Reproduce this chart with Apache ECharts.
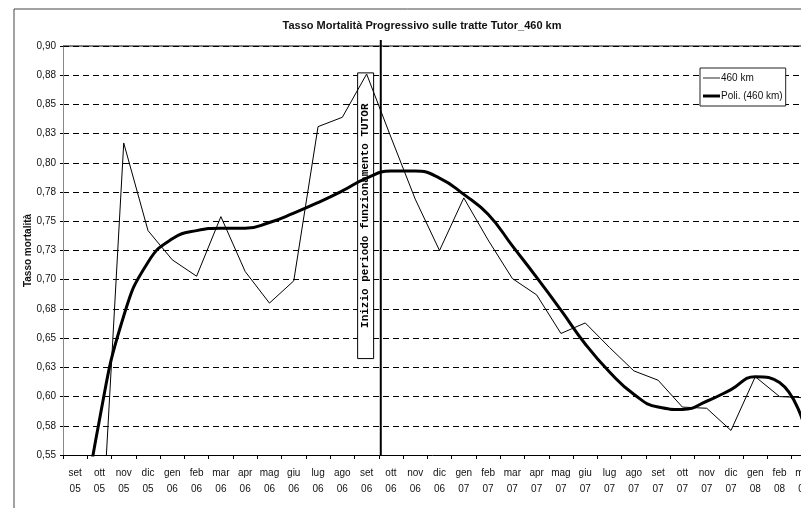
<!DOCTYPE html>
<html lang="it">
<head>
    <meta charset="UTF-8">
    <title>Tasso Mortalità Progressivo sulle tratte Tutor_460 km</title>
    <style>
        html, body { margin: 0; padding: 0; background: #fff; }
        #chart { width: 801px; height: 524px; }
    </style>
</head>
<body>
<div id="chart"></div>
<script src="https://cdn.jsdelivr.net/npm/echarts@6/dist/echarts.min.js"></script>
<script>
// mesi (asse x)
var categories = ['set 05','ott 05','nov 05','dic 05','gen 06','feb 06','mar 06','apr 06','mag 06','giu 06',
  'lug 06','ago 06','set 06','ott 06','nov 06','dic 06','gen 07','feb 07','mar 07','apr 07',
  'mag 07','giu 07','lug 07','ago 07','set 07','ott 07','nov 07','dic 07','gen 08','feb 08','mar 08'];

// tasso mortalità 460 km
var tasso460 = [0.40, 0.443, 0.817, 0.742, 0.717, 0.703, 0.754, 0.707, 0.680, 0.699,
  0.831, 0.839, 0.876, 0.822, 0.769, 0.725, 0.770, 0.734, 0.701, 0.687,
  0.654, 0.663, 0.642, 0.622, 0.614, 0.591, 0.590, 0.571, 0.617, 0.600, 0.599];

// linea di tendenza polinomiale
var poli460 = [0.45, 0.580, 0.669, 0.715, 0.735, 0.742, 0.744, 0.744, 0.749, 0.757,
  0.766, 0.776, 0.787, 0.793, 0.793, 0.787, 0.773, 0.756, 0.729, 0.702,
  0.674, 0.645, 0.621, 0.602, 0.591, 0.589, 0.596, 0.606, 0.617, 0.612, 0.576];

// etichette asse y
var yLabels = ['0,55','0,58','0,60','0,63','0,65','0,68','0,70','0,73','0,75','0,78','0,80','0,83','0,85','0,88','0,90'];

var narrow = '"Liberation Sans Narrow", "Arial Narrow", "Liberation Sans", sans-serif';

var chart = echarts.init(document.getElementById('chart'));
var option = {
  backgroundColor: '#fff',
  animation: false,
  title: {
    text: 'Tasso Mortalità Progressivo sulle tratte Tutor_460 km',
    left: 417,
    textAlign: 'center',
    top: 15,
    textStyle: { fontFamily: narrow, fontSize: 11, fontWeight: 'bold', color: '#111' }
  },
  legend: {
    left: 700,
    top: 68,
    orient: 'vertical',
    backgroundColor: '#fff',
    borderColor: '#222',
    borderWidth: 1,
    padding: [5, 3, 5, 3],
    itemWidth: 17,
    itemHeight: 10,
    itemGap: 8,
    textStyle: { fontFamily: narrow, fontSize: 10, color: '#111', padding: [0, 0, 0, -4] },
    data: [
      { name: '460 km', icon: 'path://M0,0 H20 V1 H0 Z' },
      { name: 'Poli. (460 km)', icon: 'path://M0,0 H20 V3.5 H0 Z' }
    ]
  },
  grid: { left: 63, top: 46, width: 753, height: 409, outerBoundsMode: 'none' },
  xAxis: {
    type: 'category',
    data: categories,
    boundaryGap: true,
    axisLine: { lineStyle: { color: '#000', width: 1 } },
    axisTick: { show: true, length: 4, lineStyle: { color: '#000' } },
    axisLabel: {
      interval: 0,
      margin: 10,
      fontFamily: narrow,
      fontSize: 10,
      lineHeight: 16,
      color: '#111',
      formatter: function (v) { return v.replace(' ', '\n'); }
    },
    splitLine: { show: false }
  },
  yAxis: {
    type: 'value',
    min: 0.55,
    max: 0.90,
    interval: 0.025,
    name: 'Tasso mortalità',
    nameLocation: 'middle',
    nameGap: 30,
    nameMoveOverlap: false,
    nameTextStyle: { fontFamily: 'Liberation Sans, sans-serif', fontSize: 10, fontWeight: 'bold', color: '#111' },
    axisLine: { show: true, lineStyle: { color: '#888', width: 1 } },
    axisTick: { show: true, length: 3, lineStyle: { color: '#000' } },
    axisLabel: {
      margin: 7,
      fontFamily: narrow,
      fontSize: 10,
      color: '#111',
      formatter: function (v) { return yLabels[Math.round((v - 0.55) / 0.025)]; }
    },
    splitLine: { show: true, lineStyle: { color: '#000', width: 1, type: [6, 4] } }
  },
  series: [
    {
      name: '460 km',
      type: 'line',
      data: tasso460,
      symbol: 'none',
      lineStyle: { color: '#000', width: 1 },
      itemStyle: { color: '#000' },
      z: 3
    },
    {
      name: 'Poli. (460 km)',
      type: 'line',
      data: poli460,
      symbol: 'none',
      smooth: 0.5,
      lineStyle: { color: '#000', width: 3 },
      itemStyle: { color: '#000' },
      z: 3
    }
  ]
};
chart.setOption(option);

// annotazioni: inizio Tutor (tra set 06 e ott 06)
var xSet = chart.convertToPixel({ xAxisIndex: 0 }, 'set 06');
var xOtt = chart.convertToPixel({ xAxisIndex: 0 }, 'ott 06');
var yTop = chart.convertToPixel({ yAxisIndex: 0 }, 0.90);
var yBot = chart.convertToPixel({ yAxisIndex: 0 }, 0.55);
var yBoxTop = chart.convertToPixel({ yAxisIndex: 0 }, 0.877);
var yBoxBot = chart.convertToPixel({ yAxisIndex: 0 }, 0.6325);
var xLine = (xSet + xOtt) / 2 + 2;

chart.setOption({
  graphic: [
    // cornice del grafico
    { type: 'line', z: 1, shape: { x1: 14, y1: 9, x2: 801, y2: 9 }, style: { stroke: '#444', lineWidth: 1 } },
    { type: 'line', z: 1, shape: { x1: 14, y1: 9, x2: 14, y2: 508 }, style: { stroke: '#444', lineWidth: 1 } },
    // bordo superiore area
    { type: 'line', z: 1, shape: { x1: 63, y1: yTop, x2: 801, y2: yTop }, style: { stroke: '#000', lineWidth: 1 } },
    // riquadro testo
    {
      type: 'rect', z: 1,
      shape: { x: xSet - 9, y: yBoxTop, width: 16, height: yBoxBot - yBoxTop },
      style: { fill: '#fff', stroke: '#000', lineWidth: 1 }
    },
    {
      type: 'text', z: 1,
      x: xSet - 1, y: (yBoxTop + yBoxBot) / 2,
      rotation: Math.PI / 2,
      style: {
        text: 'Inizio periodo funzionamento TUTOR',
        font: 'bold 11px "Liberation Mono", "DejaVu Sans Mono", monospace',
        fill: '#000',
        align: 'center',
        verticalAlign: 'middle'
      }
    },
    // linea verticale Tutor
    { type: 'line', z: 10, shape: { x1: xLine, y1: 40, x2: xLine, y2: yBot }, style: { stroke: '#000', lineWidth: 2 } }
  ]
});
</script>
</body>
</html>
